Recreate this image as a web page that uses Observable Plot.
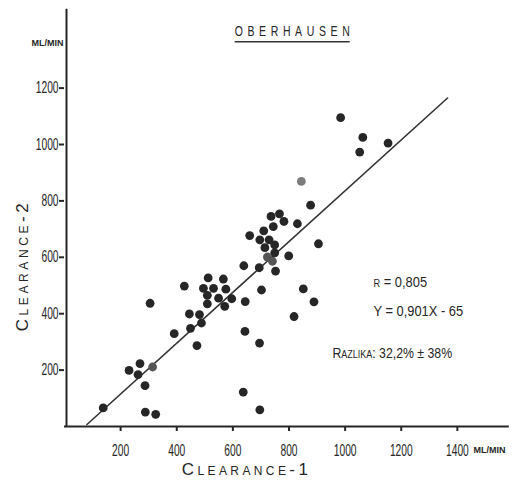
<!DOCTYPE html>
<html>
<head>
<meta charset="utf-8">
<script src="https://cdn.jsdelivr.net/npm/d3@7"></script>
<script src="https://cdn.jsdelivr.net/npm/@observablehq/plot@0.6"></script>
<style>
  body { margin: 0; background: #fff; }
  #chart svg { display: block; }
</style>
</head>
<body>
<div id="chart"></div>
<script>
// Creatinine clearance, method 1 vs method 2 (ml/min), Oberhausen series
const clearance1 = [138, 230, 262, 269, 287, 288, 325, 305, 391, 449, 488, 472, 427, 445, 481, 512,
  566, 495, 531, 575, 509, 549, 509, 596, 571, 644, 639, 694, 752, 702, 643, 695,
  637, 696, 818, 851, 889, 799, 905, 660, 710, 696, 729, 749, 714, 749, 736, 766,
  782, 830, 744, 877, 984, 1063, 1153, 1052];
const clearance2 = [66, 199, 184, 223, 145, 51, 43, 437, 329, 348, 367, 287, 498, 399, 397, 527,
  523, 490, 490, 487, 465, 455, 435, 453, 426, 443, 570, 563, 551, 484, 337, 296,
  122, 59, 390, 488, 442, 605, 648, 677, 694, 662, 662, 644, 634, 616, 745, 754,
  727, 719, 709, 785, 1095, 1025, 1005, 973];
// faintly printed points
const faintClearance1 = [314, 723, 741];
const faintClearance2 = [211, 601, 586];
const paleClearance1 = [844];
const paleClearance2 = [869];

// regression statistics
const corr = 0.805;
const slope = 0.901;
const intercept = -65;
const diffMean = 32.2;
const diffSd = 38;
const fitRange = [80, 1365];

const xTicks = [200, 400, 600, 800, 1000, 1200, 1400];
const yTicks = [200, 400, 600, 800, 1000, 1200];
const title = "OBERHAUSEN";
const xTitle = "Clearance-1";
const yTitle = "Clearance-2";
const unit = "ML/MIN";

const dec = (v) => String(v).replace(".", ",");
const pts = (a, b) => a.map((x, i) => ({x, y: b[i]}));
const fitLine = fitRange.map((x) => ({x, y: slope * x + intercept}));

const rText = `r = ${dec(corr)}`;
const eqText = `Y = ${dec(slope)}X - ${-intercept}`;
const diffText = `Razlika: ${dec(diffMean)}% ± ${diffSd}%`;

const FONT = "'Liberation Sans', Arial, sans-serif";
const INK = "#262626";

// single text placed relative to the top-left corner of the frame
const label = (s, dx, dy, opts = {}) =>
  Plot.text([s], {text: (d) => d, frameAnchor: "top-left", lineAnchor: "middle", dx, dy, ...opts});

const chart = Plot.plot({
  width: 521,
  height: 482,
  marginLeft: 64,
  marginRight: 8,
  marginTop: 3,
  marginBottom: 56,
  x: {domain: [0, 1600]},
  y: {domain: [0, 1500]},
  style: {fontFamily: FONT, color: INK, background: "#fff", overflow: "visible"},
  marks: [
    Plot.axisX({ticks: xTicks, tickSize: 5, tickPadding: 13, tickFormat: (d) => `${d}`,
      fontSize: 16, strokeWidth: 2, label: null}),
    Plot.axisY({ticks: yTicks, tickSize: 5, tickPadding: 1, tickFormat: (d) => `${d}`,
      fontSize: 16, strokeWidth: 2, label: null}),
    Plot.ruleY([0], {x1: 0, x2: 1585, stroke: INK, strokeWidth: 2}),
    Plot.ruleX([0], {y1: 0, y2: 1480, stroke: INK, strokeWidth: 2, dx: 2}),
    Plot.line(fitLine, {x: "x", y: "y", stroke: "#333", strokeWidth: 1.6}),
    Plot.dot(pts(clearance1, clearance2), {x: "x", y: "y", r: 4.4, fill: INK}),
    Plot.dot(pts(faintClearance1, faintClearance2), {x: "x", y: "y", r: 4.4, fill: "#555"}),
    Plot.dot(pts(paleClearance1, paleClearance2), {x: "x", y: "y", r: 4.4, fill: "#7d7d7d"}),
    // title and units
    label(title, 230, 27.5, {textAnchor: "middle", fontSize: 15}),
    label(unit, -1, 40, {textAnchor: "end", fontSize: 9, fontWeight: "bold"}),
    label(unit, 409, 447, {textAnchor: "start", fontSize: 9, fontWeight: "bold"}),
    // axis titles
    label(xTitle, 182, 466, {textAnchor: "middle", fontSize: 17, fontVariant: "small-caps"}),
    label(yTitle, -42, 262, {textAnchor: "middle", rotate: -90, fontSize: 17, fontVariant: "small-caps"}),
    // statistics
    label(rText, 309, 279, {textAnchor: "start", fontSize: 15, fontVariant: "small-caps"}),
    label(eqText, 309, 308, {textAnchor: "start", fontSize: 15}),
    label(diffText, 268, 350, {textAnchor: "start", fontSize: 15, fontVariant: "small-caps"})
  ]
});

document.getElementById("chart").append(chart);

// Condensed lettering: wrap each text in a group that squeezes it horizontally
// about its anchor point; titles get wider letter spacing.
const squeeze = {}, spacing = {};
for (const v of [...xTicks, ...yTicks]) squeeze[`${v}`] = 0.64;
squeeze[rText] = 0.86;
squeeze[eqText] = 0.86;
squeeze[diffText] = 0.82;
squeeze[title] = 0.7;
spacing[title] = 6.6;
spacing[xTitle] = 3.4;
spacing[yTitle] = 3.6;

const NS = "http://www.w3.org/2000/svg";
d3.select(chart).selectAll("text").nodes().forEach((node) => {
  const s = node.textContent;
  if (spacing[s] != null) node.setAttribute("letter-spacing", spacing[s]);
  if (squeeze[s] != null) {
    const g = document.createElementNS(NS, "g");
    node.parentNode.insertBefore(g, node);
    g.appendChild(node);
    const b = g.getBBox();
    const anchor = getComputedStyle(node).textAnchor;
    const ax = anchor === "end" ? b.x + b.width : anchor === "middle" ? b.x + b.width / 2 : b.x;
    g.setAttribute("transform", `translate(${ax},0) scale(${squeeze[s]},1) translate(${-ax},0)`);
  }
});

// underline the title
const svgBox = chart.getBoundingClientRect();
d3.select(chart).selectAll("text").filter(function () { return this.textContent === title; })
  .each(function () {
    const b = this.getBoundingClientRect();
    const trail = spacing[title] * squeeze[title];
    const yLine = b.bottom - svgBox.top + 2.5;
    d3.select(chart).append("line")
      .attr("x1", b.left - svgBox.left).attr("x2", b.right - svgBox.left - trail)
      .attr("y1", yLine).attr("y2", yLine)
      .attr("stroke", "#333").attr("stroke-width", 1.5);
  });
</script>
</body>
</html>
